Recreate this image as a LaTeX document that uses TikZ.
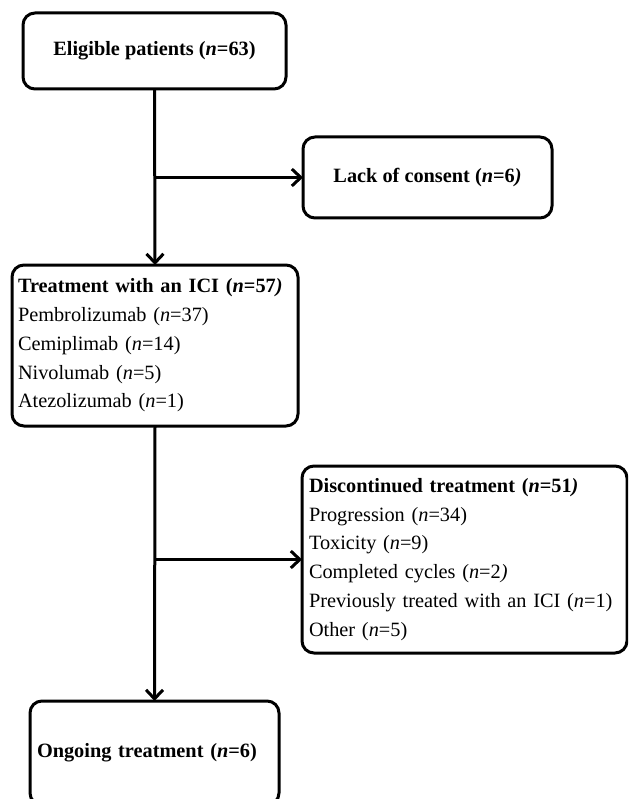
\documentclass[tikz,border=0pt]{standalone}
\usepackage{fontspec}
\setmainfont{Liberation Serif}
\usetikzlibrary{arrows.meta}
\begin{document}
\begin{tikzpicture}[x=1pt,y=-1pt,
  box/.style={draw, line width=3pt, rounded corners=12pt, inner ysep=0pt, outer sep=0pt,
    anchor=north west, font=\fontsize{20.3}{28.8}\selectfont},
  cbox/.style={box, align=center},
  lbox/.style={box, align=left, inner xsep=7pt},
  arr/.style={line width=3pt, -{Straight Barb[length=9pt,width=17pt,line width=3pt]}}]
\clip (0,0) rectangle (628,799);
\fill[white] (0,0) rectangle (628,799);

\node[cbox, minimum width=263pt, minimum height=76pt] (elig) at (23,13)
  {\textbf{Eligible patients (\textit{n}=63)}};
\node[cbox, minimum width=249pt, minimum height=81pt] (lack) at (303,137)
  {\textbf{Lack of consent (\textit{n}=6\textit{)}}};
\node[lbox, inner xsep=6pt, minimum width=286pt, minimum height=161pt, text width=274pt] (treat) at (12,265)
  {\textbf{Treatment with an ICI (\textit{n}=57\textit{)}}\\
   Pembrolizumab (\textit{n}=37)\\
   Cemiplimab (\textit{n}=14)\\
   Nivolumab (\textit{n}=5)\\
   Atezolizumab (\textit{n}=1)};
\node[lbox, minimum width=325pt, minimum height=187pt, text width=311pt] (disc) at (302,466)
  {\textbf{Discontinued treatment (\textit{n}=51\textit{)}}\\
   Progression (\textit{n}=34)\\
   Toxicity (\textit{n}=9)\\
   Completed cycles (\textit{n}=2\textit{)}\\
   Previously treated with an ICI (\textit{n}=1)\\
   Other (\textit{n}=5)};
\node[lbox, minimum width=249pt, minimum height=104pt, text width=235pt] (ongo) at (30,701)
  {\textbf{Ongoing treatment (\textit{n}=6)}};

\draw[arr] (elig.south) -- (treat.north);
\draw[arr] (elig.south |- lack.west) -- (lack.west);
\draw[arr] (treat.south) -- (ongo.north);
\draw[arr] (treat.south |- disc.west) -- (disc.west);
\end{tikzpicture}
\end{document}
